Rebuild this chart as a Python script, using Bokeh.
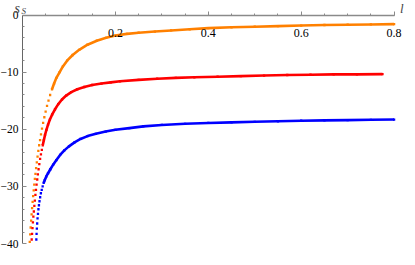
import numpy as np
from bokeh.plotting import figure
from bokeh.models import Range1d, FixedTicker, Label
from bokeh.embed import file_html
from bokeh.resources import INLINE

# ---- data ----
orange_l = [0.0156, 0.0166, 0.0176, 0.0186, 0.0196, 0.0207, 0.0218, 0.0229, 0.0241, 0.0253,
            0.0266, 0.0279, 0.0293, 0.0308, 0.0324, 0.0341, 0.0359, 0.0378, 0.0398, 0.0420,
            0.0444, 0.0470, 0.0498, 0.0528, 0.0560, 0.0595, 0.0635,
            0.068, 0.073, 0.080, 0.087, 0.096, 0.108, 0.122, 0.140, 0.160, 0.180, 0.200,
            0.225, 0.25, 0.285, 0.32, 0.36, 0.40, 0.45, 0.50, 0.55, 0.60, 0.65, 0.70, 0.75, 0.80]
orange_s = [-39.7, -38.4, -37.2, -36.0, -34.9, -33.8, -32.7, -31.7, -30.7, -29.7,
            -28.7, -27.8, -26.8, -25.8, -24.8, -23.8, -22.8, -21.9, -20.9, -19.9,
            -18.9, -17.9, -16.9, -15.9, -15.0, -14.0, -13.0,
            -12.0, -11.0, -10.0, -9.0, -8.0, -7.0, -6.1, -5.2, -4.5, -4.0, -3.6,
            -3.3, -3.1, -2.9, -2.7, -2.5, -2.3, -2.15, -2.05, -1.95, -1.85, -1.75, -1.7, -1.65, -1.6]

red_l = [0.0198, 0.0206, 0.0215, 0.0224, 0.0234, 0.0244, 0.0255, 0.0266, 0.0278, 0.0290,
         0.0303, 0.0317, 0.0331, 0.0346, 0.0362, 0.0379, 0.0397, 0.0416,
         0.0436, 0.046, 0.0485, 0.0515, 0.055, 0.059, 0.064, 0.070, 0.077, 0.085, 0.094,
         0.105, 0.118, 0.133, 0.150, 0.170, 0.19, 0.21, 0.25, 0.29, 0.33, 0.37, 0.42,
         0.47, 0.52, 0.57, 0.62, 0.67, 0.72, 0.775]
red_s = [-39.3, -38.3, -37.3, -36.3, -35.3, -34.4, -33.4, -32.5, -31.5, -30.6,
         -29.7, -28.8, -27.9, -27.0, -26.1, -25.2, -24.4, -23.6,
         -22.8, -21.9, -21.0, -20.1, -19.2, -18.3, -17.4, -16.5, -15.6, -14.8, -14.1,
         -13.5, -13.0, -12.6, -12.25, -12.0, -11.8, -11.6, -11.35, -11.15, -11.0, -10.9, -10.8,
         -10.7, -10.6, -10.5, -10.45, -10.4, -10.4, -10.35]

blue_l = [0.0298, 0.0303, 0.0309, 0.0316, 0.0324, 0.0333, 0.0343, 0.0354, 0.0366, 0.0380,
          0.0396, 0.0414, 0.0434, 0.0456,
          0.048, 0.051, 0.055, 0.060, 0.066, 0.073, 0.081, 0.090, 0.100, 0.112, 0.125,
          0.140, 0.158, 0.179, 0.20, 0.23, 0.26, 0.30, 0.35, 0.40, 0.45, 0.50, 0.55,
          0.60, 0.65, 0.70, 0.75, 0.80]
blue_s = [-39.3, -38.3, -37.4, -36.5, -35.6, -34.8, -34.0, -33.3, -32.6, -31.9,
          -31.2, -30.6, -30.0, -29.4,
          -28.9, -28.3, -27.7, -27.0, -26.2, -25.4, -24.5, -23.7, -23.0, -22.3, -21.7,
          -21.2, -20.8, -20.4, -20.1, -19.8, -19.5, -19.25, -19.05, -18.9, -18.8, -18.7, -18.6,
          -18.5, -18.45, -18.4, -18.35, -18.3]

x_ticks = [0.2, 0.4, 0.6, 0.8]
y_ticks = [0, -10, -20, -30, -40]
y_tick_labels = {0: "0", -10: "\u221210", -20: "\u221220", -30: "\u221230", -40: "\u221240"}

# ---- layout ----
W, H = 407, 249
x0 = 22               # figure pixel of l = 0
x_px = (393.6 - x0) / 0.8   # pixels per unit of l
y0 = 14.5             # figure pixel of s = 0 (from top)
y_px = (243 - y0) / 40      # pixels per unit of s

p = figure(width=W, height=H, output_backend="svg", toolbar_location=None,
           x_range=Range1d(-x0 / x_px, (W - x0) / x_px),
           y_range=Range1d(-(H - y0) / y_px, y0 / y_px),
           min_border=0)
p.outline_line_color = None
p.xgrid.visible = False
p.ygrid.visible = False
p.background_fill_color = "white"
p.border_fill_color = "white"

FONT = "Liberation Serif"
AX = "#8a8a8a"

xa = p.xaxis[0]
xa.fixed_location = 0
xa.bounds = (0, 0.8)
xa.ticker = FixedTicker(ticks=x_ticks, minor_ticks=[round(v, 2) for v in np.arange(0.05, 0.801, 0.05)])
xa.axis_line_color = AX
xa.axis_line_width = 1.6
xa.major_tick_line_color = AX
xa.minor_tick_line_color = AX
xa.major_tick_in = 4
xa.major_tick_out = 0
xa.minor_tick_in = 2
xa.minor_tick_out = 0
xa.major_label_text_font = FONT
xa.major_label_text_font_size = "12px"
xa.major_label_text_color = "black"
xa.major_label_standoff = 14

ya = p.yaxis[0]
ya.fixed_location = 0
ya.bounds = (-40, 0)
ya.ticker = FixedTicker(ticks=y_ticks, minor_ticks=list(range(-38, 0, 2)))
ya.major_label_overrides = y_tick_labels
ya.axis_line_color = "#666666"
ya.axis_line_width = 1
ya.major_tick_line_color = AX
ya.minor_tick_line_color = AX
ya.major_tick_in = 4
ya.major_tick_out = 0
ya.minor_tick_in = 2
ya.minor_tick_out = 0
ya.major_label_text_font = FONT
ya.major_label_text_font_size = "11.5px"
ya.major_label_text_color = "black"
ya.major_label_standoff = 4

series = [(orange_l, orange_s, "#ff8000", -13.5),
          (red_l, red_s, "#ff0000", -23.2),
          (blue_l, blue_s, "#0000ff", -29.7)]
for ls, ss, col, thr in series:
    p.scatter(ls, ss, marker="square", size=2.3, color=col, line_width=0)
    idx = [i for i, s in enumerate(ss) if s >= thr]
    p.line([ls[i] for i in idx], [ss[i] for i in idx], color=col, line_width=2.6)

# axis names
p.add_layout(Label(x=(399.5 - x0) / x_px, y=7 / y_px, text="l",
                   text_font=FONT, text_font_style="italic", text_font_size="13px",
                   text_baseline="middle", text_align="left"))
p.add_layout(Label(x=(14 - x0) / x_px, y=(y0 - 8) / y_px, text="s",
                   text_font=FONT, text_font_style="italic", text_font_size="14px",
                   text_baseline="alphabetic", text_align="left"))
p.add_layout(Label(x=(21 - x0) / x_px, y=(y0 - 10.5) / y_px, text="S",
                   text_font=FONT, text_font_style="italic", text_font_size="9px",
                   text_baseline="alphabetic", text_align="left"))

open("out.html", "w").write(file_html(p, INLINE))
